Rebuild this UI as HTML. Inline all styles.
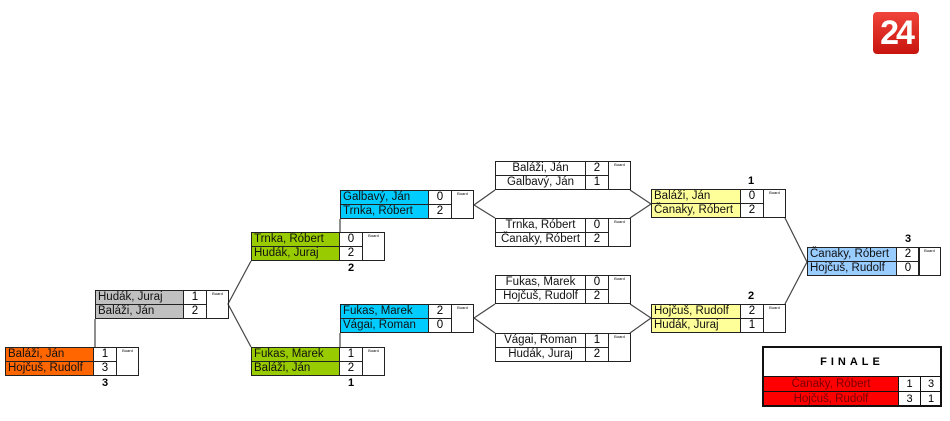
<!DOCTYPE html>
<html><head><meta charset="utf-8"><style>
body{margin:0;width:950px;height:421px;background:#fff;position:relative;overflow:hidden;font-family:"Liberation Sans",sans-serif;}
.m{position:absolute;height:29px;}
.n{position:absolute;left:0;height:15px;line-height:13px;font-size:11.5px;border:1px solid #222;box-sizing:border-box;padding-left:2px;white-space:nowrap;color:#111;}
.s{position:absolute;height:15px;line-height:13px;font-size:11.5px;border:1px solid #222;box-sizing:border-box;text-align:center;width:24px;}
.b{position:absolute;top:0;height:29px;width:23px;border:1px solid #222;box-sizing:border-box;font-size:4px;line-height:6px;text-align:center;}
.c{text-align:center;padding:0;}
.l{position:absolute;font-size:11px;font-weight:bold;}
svg{position:absolute;left:0;top:0;}
</style></head><body>
<svg width="950" height="421"><g stroke="#444" stroke-width="1.2" fill="none">
<line x1="95" y1="319" x2="95" y2="347"/>
<polyline points="251,261 228,304 251,347"/>
<line x1="340" y1="219" x2="340" y2="232"/>
<line x1="340" y1="333" x2="340" y2="347"/>
<polyline points="495,190 474,205 495,218"/>
<polyline points="630,190 651,204 630,218"/>
<polyline points="495,304 474,318 495,333"/>
<polyline points="630,304 651,318 630,333"/>
<polyline points="785,218 807,262 785,304"/>
</g></svg>

<div class="m" style="left:5px;top:347px;">
<div class="n" style="top:0;width:89px;background:#ff6600">Baláži, Ján</div>
<div class="n" style="top:14px;width:89px;background:#ff6600">Hojčuš, Rudolf</div>
<div class="s" style="left:88px;top:0">1</div><div class="s" style="left:88px;top:14px">3</div>
<div class="b" style="left:111px">Board</div></div>
<div class="l" style="left:102px;top:377px">3</div>

<div class="m" style="left:95px;top:290px;">
<div class="n" style="top:0;width:89px;background:#c0c0c0">Hudák, Juraj</div>
<div class="n" style="top:14px;width:89px;background:#c0c0c0">Baláži, Ján</div>
<div class="s" style="left:88px;top:0">1</div><div class="s" style="left:88px;top:14px">2</div>
<div class="b" style="left:111px">Board</div></div>

<div class="m" style="left:251px;top:232px;">
<div class="n" style="top:0;width:89px;background:#99cc00">Trnka, Róbert</div>
<div class="n" style="top:14px;width:89px;background:#99cc00">Hudák, Juraj</div>
<div class="s" style="left:88px;top:0">0</div><div class="s" style="left:88px;top:14px">2</div>
<div class="b" style="left:111px">Board</div></div>
<div class="l" style="left:348px;top:262px">2</div>

<div class="m" style="left:251px;top:347px;">
<div class="n" style="top:0;width:89px;background:#99cc00">Fukas, Marek</div>
<div class="n" style="top:14px;width:89px;background:#99cc00">Baláži, Ján</div>
<div class="s" style="left:88px;top:0">1</div><div class="s" style="left:88px;top:14px">2</div>
<div class="b" style="left:111px">Board</div></div>
<div class="l" style="left:348px;top:377px">1</div>

<div class="m" style="left:340px;top:190px;">
<div class="n" style="top:0;width:89px;background:#00ccff">Galbavý, Ján</div>
<div class="n" style="top:14px;width:89px;background:#00ccff">Trnka, Róbert</div>
<div class="s" style="left:88px;top:0">0</div><div class="s" style="left:88px;top:14px">2</div>
<div class="b" style="left:111px">Board</div></div>

<div class="m" style="left:340px;top:304px;">
<div class="n" style="top:0;width:89px;background:#00ccff">Fukas, Marek</div>
<div class="n" style="top:14px;width:89px;background:#00ccff">Vágai, Roman</div>
<div class="s" style="left:88px;top:0">2</div><div class="s" style="left:88px;top:14px">0</div>
<div class="b" style="left:111px">Board</div></div>

<div class="m" style="left:495px;top:161px;">
<div class="n c" style="top:0;width:91px;">Baláži, Ján</div>
<div class="n c" style="top:14px;width:91px;">Galbavý, Ján</div>
<div class="s" style="left:90px;top:0">2</div><div class="s" style="left:90px;top:14px">1</div>
<div class="b" style="left:113px">Board</div></div>

<div class="m" style="left:495px;top:218px;">
<div class="n c" style="top:0;width:91px;">Trnka, Róbert</div>
<div class="n c" style="top:14px;width:91px;">Čanaky, Róbert</div>
<div class="s" style="left:90px;top:0">0</div><div class="s" style="left:90px;top:14px">2</div>
<div class="b" style="left:113px">Board</div></div>

<div class="m" style="left:495px;top:275px;">
<div class="n c" style="top:0;width:91px;">Fukas, Marek</div>
<div class="n c" style="top:14px;width:91px;">Hojčuš, Rudolf</div>
<div class="s" style="left:90px;top:0">0</div><div class="s" style="left:90px;top:14px">2</div>
<div class="b" style="left:113px">Board</div></div>

<div class="m" style="left:495px;top:333px;">
<div class="n c" style="top:0;width:91px;">Vágai, Roman</div>
<div class="n c" style="top:14px;width:91px;">Hudák, Juraj</div>
<div class="s" style="left:90px;top:0">1</div><div class="s" style="left:90px;top:14px">2</div>
<div class="b" style="left:113px">Board</div></div>

<div class="m" style="left:651px;top:189px;">
<div class="n" style="top:0;width:90px;background:#ffff99">Baláži, Ján</div>
<div class="n" style="top:14px;width:90px;background:#ffff99">Čanaky, Róbert</div>
<div class="s" style="left:89px;top:0">0</div><div class="s" style="left:89px;top:14px">2</div>
<div class="b" style="left:112px">Board</div></div>
<div class="l" style="left:748px;top:175px">1</div>

<div class="m" style="left:651px;top:304px;">
<div class="n" style="top:0;width:90px;background:#ffff99">Hojčuš, Rudolf</div>
<div class="n" style="top:14px;width:90px;background:#ffff99">Hudák, Juraj</div>
<div class="s" style="left:89px;top:0">2</div><div class="s" style="left:89px;top:14px">1</div>
<div class="b" style="left:112px">Board</div></div>
<div class="l" style="left:748px;top:290px">2</div>

<div class="m" style="left:807px;top:247px;">
<div class="n" style="top:0;width:90px;background:#99ccff">Čanaky, Róbert</div>
<div class="n" style="top:14px;width:90px;background:#99ccff">Hojčuš, Rudolf</div>
<div class="s" style="left:89px;top:0">2</div><div class="s" style="left:89px;top:14px">0</div>
<div class="b" style="left:111px">Board</div></div>
<div class="l" style="left:905px;top:233px">3</div>

<div style="position:absolute;left:762px;top:346px;width:180px;height:61px;border:2px solid #111;box-sizing:border-box;">
<div style="position:absolute;left:0;top:0;width:176px;height:28px;border-bottom:1px solid #111;text-align:center;line-height:28px;font-size:11px;font-weight:bold;letter-spacing:4px;">FINALE</div>
<div style="position:absolute;left:0;top:29px;width:134px;height:14px;background:#ff0000;color:#7a0000;font-size:11.5px;line-height:14px;text-align:center;border-bottom:1px solid #111;">Čanaky, Róbert</div>
<div style="position:absolute;left:0;top:44px;width:134px;height:13px;background:#ff0000;color:#7a0000;font-size:11.5px;line-height:14px;text-align:center;">Hojčuš, Rudolf</div>
<div style="position:absolute;left:134px;top:29px;width:21px;height:14px;border-left:1px solid #111;border-bottom:1px solid #111;font-size:11px;line-height:14px;text-align:center;">1</div>
<div style="position:absolute;left:156px;top:29px;width:20px;height:14px;border-left:1px solid #111;border-bottom:1px solid #111;font-size:11px;line-height:14px;text-align:center;">3</div>
<div style="position:absolute;left:134px;top:44px;width:21px;height:13px;border-left:1px solid #111;font-size:11px;line-height:14px;text-align:center;">3</div>
<div style="position:absolute;left:156px;top:44px;width:20px;height:13px;border-left:1px solid #111;font-size:11px;line-height:14px;text-align:center;">1</div>
</div>

<div style="position:absolute;left:873px;top:12px;width:46px;height:42px;border-radius:4px;background:linear-gradient(#f0443a,#c8140e);color:#fff;font-weight:bold;font-size:34px;line-height:42px;text-align:center;letter-spacing:-3px;font-family:'Liberation Sans',sans-serif;">24</div>
</body></html>
